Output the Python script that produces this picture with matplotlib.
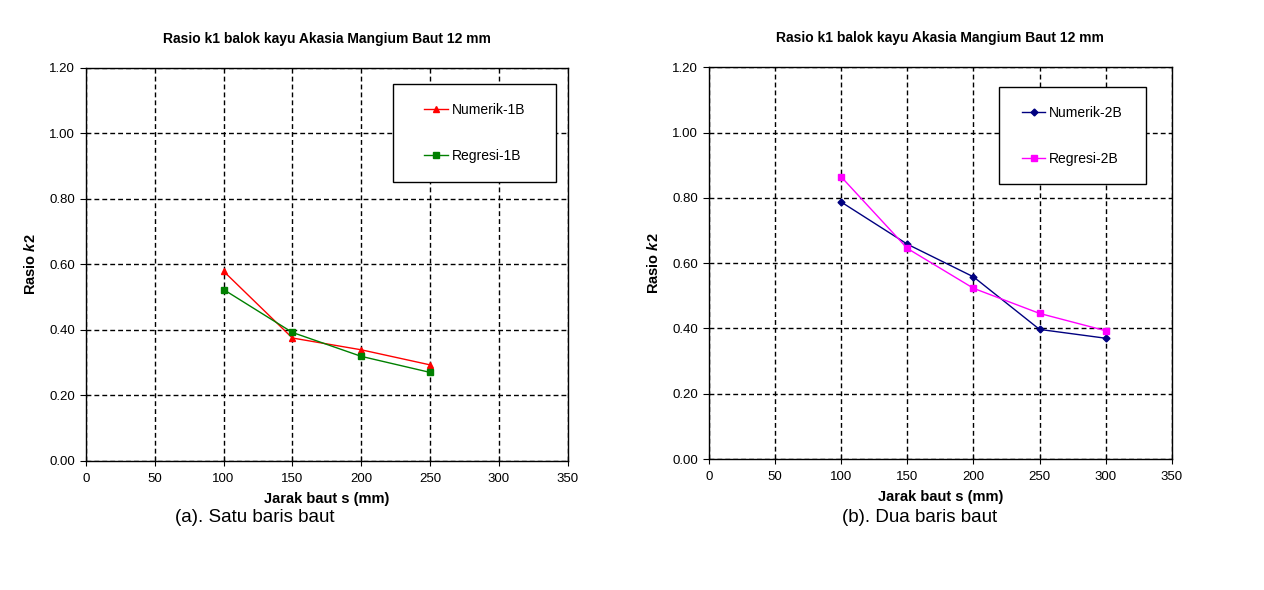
import matplotlib.pyplot as plt
from matplotlib.patches import Rectangle

plt.rcParams['font.family'] = ['Liberation Sans', 'DejaVu Sans']
plt.rcParams['mathtext.fontset'] = 'custom'
plt.rcParams['mathtext.it'] = 'Liberation Sans:italic:bold'
plt.rcParams['mathtext.rm'] = 'Liberation Sans:bold'

# data
jarak_1b = [100, 150, 200, 250]
numerik_1b = [0.579, 0.375, 0.339, 0.293]
regresi_1b = [0.523, 0.392, 0.319, 0.270]

jarak_2b = [100, 150, 200, 250, 300]
numerik_2b = [0.787, 0.658, 0.558, 0.397, 0.370]
regresi_2b = [0.864, 0.645, 0.523, 0.446, 0.393]

judul = 'Rasio k1 balok kayu Akasia Mangium Baut 12 mm'
xticks = [0, 50, 100, 150, 200, 250, 300, 350]
yticks = [0.0, 0.2, 0.4, 0.6, 0.8, 1.0, 1.2]


def gaya_sumbu(ax):
    ax.set_xlim(0, 350)
    ax.set_ylim(0, 1.2)
    ax.set_xticks(xticks)
    ax.set_yticks(yticks)
    ax.set_yticklabels(['%.2f' % v for v in yticks])
    ax.grid(True, color='black', linestyle=(0, (3.5, 2.2)), linewidth=1.0)
    ax.tick_params(axis='x', direction='inout', length=7, labelsize=9.5, pad=5)
    ax.tick_params(axis='y', direction='out', length=4, labelsize=9.5, pad=4)
    for s in ax.spines.values():
        s.set_linewidth(1.0)
        s.set_color('black')
    ax.set_title(judul, fontsize=10, fontweight='bold', pad=18)
    ax.set_xlabel('Jarak baut s (mm)', fontsize=10.5, fontweight='bold', labelpad=5)
    ax.set_ylabel(r'Rasio $\mathit{k2}$', fontsize=10.5, fontweight='bold',
                  labelpad=8)


def kotak_legenda(ax, kotak):
    x0, y0, x1, y1 = kotak
    ax.add_patch(Rectangle((x0, y0), x1 - x0, y1 - y0, transform=ax.transAxes,
                           facecolor='white', edgecolor='black', linewidth=1.0,
                           zorder=4))
    leg = ax.legend(loc='center', bbox_to_anchor=((x0 + x1) / 2, (y0 + y1) / 2),
                    fontsize=10, frameon=False, labelspacing=2.3,
                    handlelength=1.7, handletextpad=0.25, borderpad=0)
    leg.set_zorder(5)


fig = plt.figure(figsize=(12.64, 5.90), dpi=100)

ax1 = fig.add_axes([0.068, 0.219, 0.381, 0.666])
ax1.plot(jarak_1b, numerik_1b, color='#FF0000', marker='^', markersize=5,
         linewidth=1.0, label='Numerik-1B')
ax1.plot(jarak_1b, regresi_1b, color='#008000', marker='s', markersize=5,
         linewidth=1.0, label='Regresi-1B')
gaya_sumbu(ax1)
kotak_legenda(ax1, (0.637, 0.71, 0.977, 0.959))

ax2 = fig.add_axes([0.561, 0.222, 0.366, 0.664])
ax2.plot(jarak_2b, numerik_2b, color='#000080', marker='D', markersize=3.5,
         linewidth=1.0, label='Numerik-2B')
ax2.plot(jarak_2b, regresi_2b, color='#FF00FF', marker='s', markersize=4.5,
         linewidth=1.0, label='Regresi-2B')
gaya_sumbu(ax2)
kotak_legenda(ax2, (0.626, 0.702, 0.944, 0.949))

fig.text(255 / 1264, 1 - 517 / 590, '(a). Satu baris baut', ha='center',
         va='center', fontsize=13.5)
fig.text(920 / 1264, 1 - 517 / 590, '(b). Dua baris baut', ha='center',
         va='center', fontsize=13.5)

fig.savefig('out.png', dpi=100)
